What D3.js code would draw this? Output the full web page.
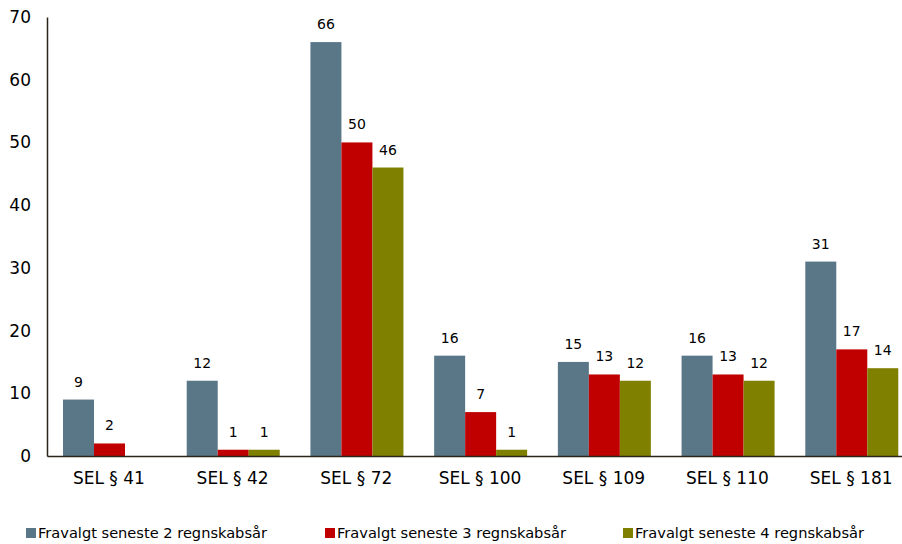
<!DOCTYPE html>
<html>
<head>
<meta charset="utf-8">
<script src="https://cdn.jsdelivr.net/npm/d3@7"></script>
<style>
  body { margin: 0; background: #fff; }
  svg { display: block; font-family: Verdana, "DejaVu Sans", sans-serif; }
</style>
</head>
<body>
<div id="chart"></div>
<script>
(function() {
    'use strict';

    // data
    var categories = ['SEL § 41', 'SEL § 42', 'SEL § 72', 'SEL § 100', 'SEL § 109', 'SEL § 110', 'SEL § 181'];
    var seriesNames = ['Fravalgt seneste 2 regnskabsår', 'Fravalgt seneste 3 regnskabsår', 'Fravalgt seneste 4 regnskabsår'];
    var values2 = [9, 12, 66, 16, 15, 16, 31];
    var values3 = [2, 1, 50, 7, 13, 13, 17];
    var values4 = [null, 1, 46, 1, 12, 12, 14];
    var yTicks = [0, 10, 20, 30, 40, 50, 60, 70];
    var colors = ['#5a7788', '#c00000', '#7f8000'];

    var series = [values2, values3, values4];

    var width = 902, height = 544;
    var x0Start = 47, x0End = 913, yBottom = 456, yTop = 17;

    var svg = d3.select('#chart').append('svg')
        .attr('width', width)
        .attr('height', height);

    var x0 = d3.scaleBand()
        .domain(categories)
        .range([x0Start, x0End])
        .paddingInner(0)
        .paddingOuter(0);

    var x1 = d3.scaleBand()
        .domain(d3.range(series.length))
        .range([16, 16 + 93]);

    var y = d3.scaleLinear()
        .domain([0, 70])
        .range([yBottom, yTop]);

    function cells(d, i) {
        return series.map(function(s, k) { return { k: k, v: s[i] }; })
            .filter(function(e) { return e.v != null; });
    }

    // bars
    var groups = svg.append('g').selectAll('g')
        .data(categories)
        .join('g')
        .attr('transform', function(d) { return 'translate(' + x0(d) + ',0)'; });

    groups.selectAll('rect')
        .data(cells)
        .join('rect')
        .attr('x', function(d) { return x1(d.k); })
        .attr('width', x1.bandwidth())
        .attr('y', function(d) { return y(d.v); })
        .attr('height', function(d) { return yBottom - y(d.v); })
        .attr('fill', function(d) { return colors[d.k]; });

    // value labels
    groups.selectAll('text')
        .data(cells)
        .join('text')
        .attr('x', function(d) { return x1(d.k) + x1.bandwidth() / 2; })
        .attr('y', function(d) { return y(d.v) - 13; })
        .attr('text-anchor', 'middle')
        .attr('font-size', 14)
        .attr('fill', '#000')
        .text(function(d) { return d.v; });

    // y axis
    var yAxis = svg.append('g')
        .attr('transform', 'translate(' + x0Start + ',0)')
        .call(d3.axisLeft(y).tickValues(yTicks).tickSize(0).tickPadding(16));
    yAxis.select('.domain').attr('stroke', '#2b2416').attr('stroke-width', 1.5);
    yAxis.selectAll('text').attr('font-size', 17).attr('fill', '#000')
        .attr('font-family', 'Verdana, "DejaVu Sans", sans-serif');

    // x axis
    var xAxis = svg.append('g')
        .attr('transform', 'translate(0,' + yBottom + ')')
        .call(d3.axisBottom(x0).tickSize(0).tickPadding(16));
    xAxis.select('.domain').attr('stroke', '#2b2416').attr('stroke-width', 1.5);
    xAxis.selectAll('text').attr('font-size', 17).attr('fill', '#000')
        .attr('font-family', 'Verdana, "DejaVu Sans", sans-serif');

    // legend
    var legendX = [26, 325, 623];
    var legend = svg.append('g').selectAll('g')
        .data(seriesNames)
        .join('g')
        .attr('transform', function(d, i) { return 'translate(' + legendX[i] + ',528)'; });
    legend.append('rect')
        .attr('width', 10).attr('height', 10)
        .attr('fill', function(d, i) { return colors[i]; });
    legend.append('text')
        .attr('x', 12).attr('y', 10)
        .attr('font-size', 14.6)
        .attr('fill', '#000')
        .text(function(d) { return d; });
})();
</script>
</body>
</html>
